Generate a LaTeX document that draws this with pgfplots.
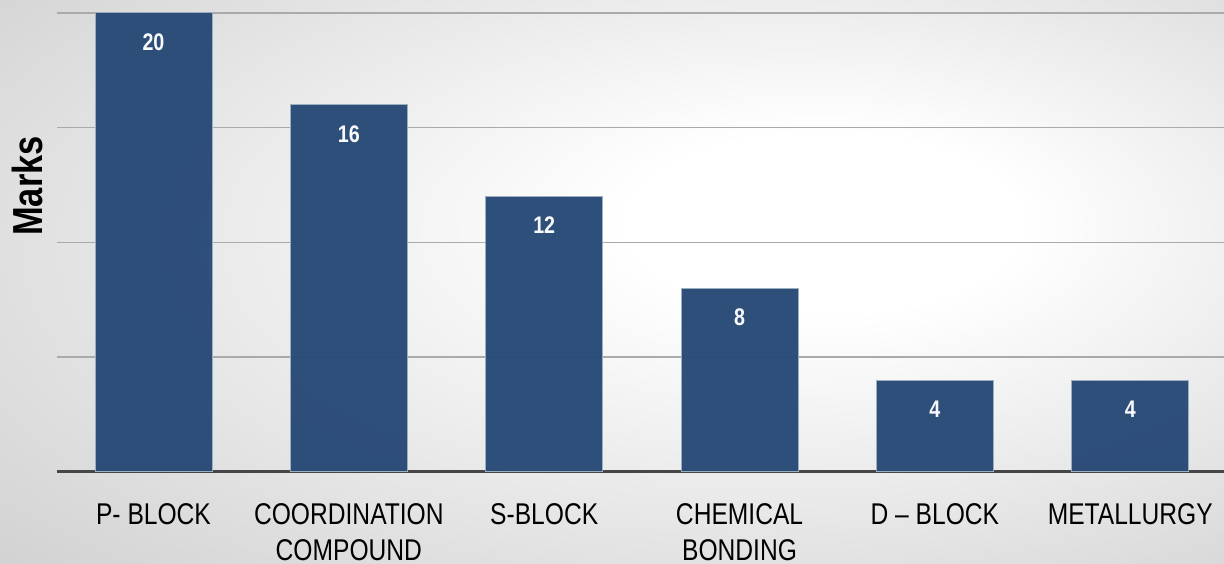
\documentclass[border=0pt]{standalone}
\usepackage{pgfplots}
\pgfplotsset{compat=1.18}
\usepackage{fontspec}
\setmainfont{Liberation Sans}[FakeStretch=0.82]
\usetikzlibrary{backgrounds}

\definecolor{barblue}{RGB}{40,74,118}
\definecolor{axisgray}{RGB}{70,70,70}
\definecolor{gridgray}{RGB}{170,170,170}

\pgfdeclareradialshading{bgshade}{\pgfpoint{10bp}{6bp}}{color(0bp)=(white); color(8bp)=(white); color(40bp)=(black!18); color(60bp)=(black!21)}

\begin{document}
\begin{tikzpicture}
\begin{axis}[
  name=ax,
  scale only axis,
  width=583.5pt, height=229.5pt,
  xmin=-0.494, xmax=5.48,
  ymin=0, ymax=20,
  enlarge x limits=false,
  ybar, bar width=58.5pt,
  axis x line*=bottom,
  axis y line*=left,
  x axis line style={-, line width=1.5pt, color=axisgray},
  y axis line style={draw=none},
  ytick={0,5,10,15,20}, yticklabels={},
  ymajorgrids, grid style={gridgray, line width=0.75pt},
  major tick length=0pt,
  xtick={0,1,2,3,4,5},
  xticklabels={P- BLOCK, {COORDINATION\\COMPOUND}, S-BLOCK, {CHEMICAL\\BONDING}, D – BLOCK, METALLURGY},
  xticklabel style={align=center, font=\fontsize{15}{18}\selectfont, yshift=-12pt},
  /pgf/number format/assume math mode=true,
  nodes near coords,
  nodes near coords style={font=\bfseries\fontsize{12}{14}\selectfont, text=white, anchor=north, yshift=-6.7pt},
  ylabel={Marks},
  ylabel style={at={(axis description cs:-0.0249,0.623)}, rotate=0, anchor=center, font=\bfseries\fontsize{21}{24}\selectfont},
]
\addplot[fill=barblue, draw=barblue!45!white, line width=0.5pt, fill opacity=0.97] coordinates {(0,20) (1,16) (2,12) (3,8) (4,4) (5,4)};
\end{axis}
\begin{pgfonlayer}{background}
\shade[shading=bgshade] ([xshift=-28.5pt,yshift=-46pt]ax.south west) rectangle ([yshift=6.5pt]ax.north east);
\end{pgfonlayer}
\pgfresetboundingbox
\path[use as bounding box] ([xshift=-28.5pt,yshift=-46pt]ax.south west) rectangle ([yshift=6.5pt]ax.north east);
\end{tikzpicture}
\end{document}
